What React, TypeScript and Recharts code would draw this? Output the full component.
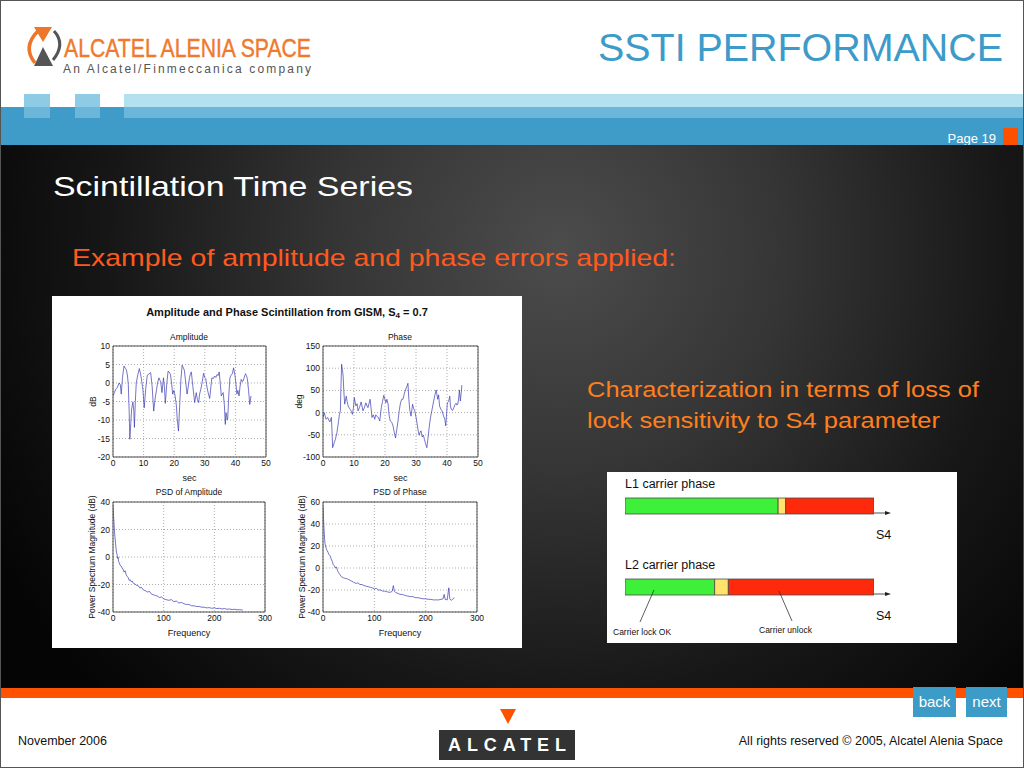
import React from 'react';
import {
  LineChart, Line, XAxis, YAxis, CartesianGrid, ReferenceArea,
  BarChart, Bar,
} from 'recharts';

const FONT = '"Liberation Sans", Arial, Helvetica, sans-serif';

// ---------- Scintillation data ----------
const amplitudeSamples: [number, number][] = [
  [0, -3.5], [0.5, -2.5], [0.9, -1.7], [1.4, -1.2], [2, 0], [2.4, -0.5], [2.7, -3], [3.1, 1.5], [3.6, 4.6], [4, 4],
  [4.3, 3.7], [4.7, 2.2], [5, -0.4], [5.3, -8], [5.5, -15.2], [5.8, -11], [6.1, -7], [6.5, -5.1], [6.8, -7.5], [7, -12],
  [7.3, -5], [7.6, 0], [8.1, 2.2], [8.6, 3.9], [9, 2.5], [9.3, 1], [9.8, -2], [10.2, -6.7], [10.7, -1.5], [11.2, 2.1],
  [11.7, 2.4], [12.3, 2.8], [12.8, -1], [13.3, -7.6], [13.8, -4], [14.2, -2], [14.6, 0.2], [15, 1.4], [15.3, 0.8], [15.6, 0.3],
  [16, -2.6], [16.5, 1.4], [16.8, -1], [17.1, -5.5], [17.6, 0], [18, 3.2], [18.4, 2.9], [18.8, 2.3], [19.2, -0.5], [19.5, -3],
  [19.9, -2], [20.3, -3.5], [20.7, -6], [21, -9.8], [21.4, -13], [21.8, -6], [22.2, 1], [22.6, 4.8], [23, 4.1], [23.3, 3.5],
  [23.8, 0], [24.2, -3], [24.6, -1], [25, 1.4], [25.3, 2.5], [25.6, 3], [26.1, -1], [26.7, -5.3], [27.2, -2.6], [27.6, -4.5],
  [28, -5.3], [28.3, -3], [28.7, -1.7], [29.2, 0.5], [29.6, 2.6], [30, 1.5], [30.3, 1.2], [30.6, -0.5], [30.9, -1.9], [31.2, -3],
  [31.6, -4.2], [32, -1], [32.3, 1.4], [32.8, 1.2], [33.2, 1.9], [33.6, 1.5], [34, 2.3], [34.4, 2], [34.7, 3], [35.1, -0.5],
  [35.4, -3.5], [36, -2.6], [36.4, -6], [36.7, -11.2], [36.9, -8], [37.1, -8.5], [37.3, -10], [37.5, -9.4], [37.8, -4], [38.2, 1.4],
  [38.6, 2.1], [39, 2.5], [39.4, 4.1], [39.9, 1.9], [40.2, -0.5], [40.5, -3], [40.8, -2], [41.2, -3.5], [41.5, -1], [41.9, 1],
  [42.2, 0.4], [42.5, 0.5], [42.9, 1.5], [43.3, 2.5], [43.6, 2], [43.9, 1.2], [44.3, -2], [44.7, -5.8], [45.1, -3.5],
];

const phaseSamples: [number, number][] = [
  [0, -11], [0.4, 0], [0.7, -8], [1, -15], [1.5, -11], [1.9, -17], [2.2, -21], [2.7, -11], [2.9, -40], [3.1, -79],
  [3.6, -68], [4, -60], [4.5, -45], [5, -20], [5.3, -4], [5.6, 4], [5.8, 60], [6, 109], [6.3, 95], [6.5, 82],
  [6.7, 50], [7, 19], [7.5, 37], [7.8, 25], [8.1, 15], [8.5, 10], [8.8, 7], [9.2, 2], [9.5, -4], [9.8, 10],
  [10.1, 34], [10.6, 15], [11, 20], [11.3, 4], [11.8, 12], [12.3, 24], [12.9, 4], [13.4, 12], [13.8, 22], [14.2, 15],
  [14.5, 11], [15.2, 30], [15.5, 10], [15.8, -11], [16.2, -5], [16.7, -15], [17, -5], [17.4, -8], [17.9, -12], [18.3, -19],
  [18.8, 11], [19.2, 25], [19.6, 39], [20.3, 22], [20.6, 30], [21, 19], [21.3, -5], [21.7, -19], [22.2, -22], [22.6, -30],
  [23, -45], [23.4, -57], [23.8, -38], [24.2, -19], [24.6, 5], [25, 22], [25.4, 30], [25.8, 30], [26.2, 42], [26.6, 51],
  [27, 58], [27.4, 66], [27.7, 30], [28, 5], [28.4, -8], [28.9, 19], [29.2, 10], [29.6, 4], [30, -10], [30.3, -23],
  [30.7, -40], [31, -51], [31.3, -45], [31.6, -41], [32, -55], [32.4, -51], [32.7, -60], [33, -68], [33.5, -79], [33.9, -55],
  [34.3, -30], [34.7, -10], [35.1, 4], [35.4, 15], [35.7, 26], [36.1, 40], [36.5, 51], [37, 30], [37.3, 40], [37.6, 15],
  [38, 8], [38.4, 4], [38.9, -8], [39.3, -15], [39.6, -30], [39.9, 0], [40.1, 22], [40.5, 25], [40.9, 37], [41.1, 15],
  [41.4, 7], [41.8, 5], [42.2, 11], [42.6, 18], [42.9, 21], [43.2, 17], [43.5, 19], [43.8, 35], [44, 51], [44.3, 26],
  [44.6, 45], [44.8, 62],
];

const psdAmplitudeSamples: [number, number][] = [
  [0, 38], [1, 30], [2, 25], [3, 18], [4, 14], [5, 10], [6, 6], [7, 3], [8, 2], [9, -1],
  [10, 0], [11, -3], [12, -4], [14, -6], [16, -6.5], [18, -8], [20, -9], [22, -11], [24, -10], [26, -13],
  [28, -14], [30, -15], [32, -17], [34, -16.5], [36, -18], [38, -17.5], [40, -19], [43, -19.5], [46, -20.5], [50, -21],
  [53, -22.5], [56, -22], [60, -24], [64, -24.5], [68, -25.5], [72, -25], [76, -27], [80, -27.5], [84, -28], [88, -28.5],
  [92, -29.5], [96, -29], [100, -30.5], [105, -31], [110, -31.5], [115, -31], [120, -32.5], [125, -32], [130, -33.5], [135, -33],
  [140, -34], [145, -34.5], [150, -34.5], [155, -35.5], [160, -35.5], [165, -36], [170, -36], [175, -36.5], [180, -36.5], [185, -37],
  [190, -36.8], [195, -37.3], [200, -37], [205, -37.5], [210, -37.3], [215, -37.8], [220, -37.5], [225, -38], [230, -37.8], [235, -38.2],
  [240, -38], [245, -38.4], [250, -38.3], [256, -38.6],
];

const psdPhaseSamples: [number, number][] = [
  [0, 56], [1, 45], [2, 35], [3, 27], [4, 22], [5, 20], [6, 18], [8, 16], [10, 14], [12, 12],
  [14, 11], [16, 8], [18, 6], [20, 3], [22, 2], [24, 0], [26, 1], [28, -2], [30, -4], [33, -6],
  [36, -8], [40, -9], [44, -9.5], [48, -10], [52, -11], [56, -12], [60, -13], [64, -14], [68, -13.5], [72, -15],
  [76, -15], [80, -16], [84, -16.5], [88, -17], [92, -17.5], [96, -18], [100, -19], [104, -18.5], [108, -20], [112, -20],
  [116, -21], [120, -21], [124, -21.5], [128, -22], [132, -22], [135, -21], [137, -16], [139, -21], [142, -22.5], [146, -23],
  [150, -24], [155, -24], [160, -25], [165, -25.5], [170, -26], [175, -26], [180, -27], [185, -27], [190, -27.5], [195, -28],
  [200, -28], [205, -28.5], [210, -28.5], [215, -29], [220, -29], [225, -29], [230, -28.5], [234, -28], [236, -24], [238, -28.5],
  [242, -29], [245, -18], [247, -28], [250, -29.5], [253, -28], [256, -27],
];

const secTicks = [0, 10, 20, 30, 40, 50];
const freqTicks = [0, 100, 200, 300];
const ampTicks = [-20, -15, -10, -5, 0, 5, 10];
const phaseTicks = [-100, -50, 0, 50, 100, 150];
const psdAmpTicks = [-40, -20, 0, 20, 40];
const psdPhaseTicks = [-40, -20, 0, 20, 40, 60];

// ---------- Loss of lock diagram data ----------
const lockCategories = ['L1 carrier phase', 'L2 carrier phase'];
const lockOk = [0.615, 0.36];
const lockMarginal = [0.03, 0.055];
const lockLost = [0.355, 0.585];

type PlotProps = {
  samples: [number, number][];
  px: number; py: number; pw: number; ph: number;
  xDomain: [number, number]; xTicks: number[];
  yDomain: [number, number]; yTicks: number[];
  xLabel: string; yLabel: string; yLabelDx: number;
};

function SmallPlot(p: PlotProps) {
  const data = p.samples.map(([x, y]) => ({ x, y }));
  const L = 50, B = 30, T = 6, R = 12;
  const tick = { fontSize: 8.5, fill: '#111', fontFamily: FONT };
  return (
    <div style={{ position: 'absolute', left: p.px - L, top: p.py - T }}>
      <LineChart width={p.pw + L + R} height={p.ph + T + B} data={data}
        margin={{ top: T, right: R, left: 0, bottom: 0 }}>
        <CartesianGrid stroke="#8a8a8a" strokeDasharray="1 2" strokeWidth={0.7} />
        <XAxis dataKey="x" type="number" domain={p.xDomain} ticks={p.xTicks} interval={0}
          allowDataOverflow tickLine={false} axisLine={false} tickSize={2} tickMargin={1}
          height={B} tick={tick}
          label={{ value: p.xLabel, position: 'insideBottom', offset: 6, fontSize: 9, fill: '#111', fontFamily: FONT }} />
        <YAxis type="number" domain={p.yDomain} ticks={p.yTicks} interval={0}
          allowDataOverflow tickLine={false} axisLine={false} tickSize={3} tickMargin={0}
          width={L} tick={tick}
          label={{ value: p.yLabel, angle: -90, position: 'insideLeft', offset: p.yLabelDx,
            fontSize: 8.5, fill: '#111', fontFamily: FONT, style: { textAnchor: 'middle' } }} />
        <ReferenceArea x1={p.xDomain[0]} x2={p.xDomain[1]} y1={p.yDomain[0]} y2={p.yDomain[1]}
          fill="none" fillOpacity={0} stroke="#222" strokeWidth={0.8} />
        <Line dataKey="y" type="linear" stroke="#3a3ab0" strokeWidth={0.7} dot={false}
          isAnimationActive={false} />
      </LineChart>
    </div>
  );
}

function LockDiagram() {
  const data = lockCategories.map((name, i) => ({
    name, ok: lockOk[i], marginal: lockMarginal[i], lost: lockLost[i],
  }));
  return (
    <div style={{ position: 'absolute', left: 625, top: 464.5 }}>
      <BarChart width={249} height={162} data={data} layout="vertical"
        margin={{ top: 0, right: 0, left: 0, bottom: 0 }} barSize={16}>
        <XAxis type="number" domain={[0, 1]} hide />
        <YAxis type="category" dataKey="name" hide />
        <Bar dataKey="ok" stackId="s" fill="#3ef03a" stroke="#4a4a4a" strokeWidth={0.8} isAnimationActive={false} />
        <Bar dataKey="marginal" stackId="s" fill="#ffe36a" stroke="#4a4a4a" strokeWidth={0.8} isAnimationActive={false} />
        <Bar dataKey="lost" stackId="s" fill="#ff2a0c" stroke="#4a4a4a" strokeWidth={0.8} isAnimationActive={false} />
      </BarChart>
    </div>
  );
}

export default function App() {
  const c = { dominantBaseline: 'central' as const, fontFamily: FONT };
  return (
    <div style={{ position: 'fixed', left: 0, top: 0, width: 1024, height: 768, overflow: 'hidden', background: '#fff', fontFamily: FONT }}>
      <svg width={1024} height={768} style={{ position: 'absolute', left: 0, top: 0 }}>
        <defs>
          <radialGradient id="bg" cx="560" cy="250" r="640" gradientUnits="userSpaceOnUse">
            <stop offset="0" stopColor="#4c4c4c" />
            <stop offset="0.35" stopColor="#353535" />
            <stop offset="0.7" stopColor="#171717" />
            <stop offset="1" stopColor="#050505" />
          </radialGradient>
        </defs>
        {/* header bands */}
        <rect x={124} y={94} width={900} height={13} fill="#b3e1ef" />
        <rect x={0} y={107} width={1024} height={38} fill="#3f9cc8" />
        <rect x={124} y={107} width={900} height={11} fill="#6cb6da" />
        <rect x={24} y={94} width={26} height={13} fill="#8ecce5" />
        <rect x={24} y={107} width={26} height={11} fill="#6cb6da" />
        <rect x={75} y={94} width={25} height={13} fill="#8ecce5" />
        <rect x={75} y={107} width={25} height={11} fill="#6cb6da" />
        {/* header logo */}
        <polygon points="34,27 52,27 43,42" fill="#ef7628" />
        <polygon points="43,47 34,66 53,66" fill="#555" />
        <path d="M38,31 Q22,47 35,63" fill="none" stroke="#ef7628" strokeWidth={3.5} />
        <path d="M54,31 Q66,44 53,60" fill="none" stroke="#555" strokeWidth={3} />
        <text x={64} y={48} {...c} fontSize={25} fill="#ef7a2c" stroke="#ef7a2c" strokeWidth={0.4} textLength={247} lengthAdjust="spacingAndGlyphs">ALCATEL ALENIA SPACE</text>
        <text x={63} y={69} {...c} fontSize={12} fill="#555" textLength={248} lengthAdjust="spacing">An Alcatel/Finmeccanica company</text>
        <text x={1003} y={47} {...c} textAnchor="end" fontSize={39} fill="#3d9bc9" textLength={405} lengthAdjust="spacingAndGlyphs">SSTI PERFORMANCE</text>
        <text x={996} y={138} {...c} textAnchor="end" fontSize={13} fill="#fff">Page 19</text>
        <rect x={1003} y={128} width={15} height={17} fill="#ff5000" />
        {/* dark body */}
        <rect x={0} y={145} width={1024} height={543} fill="url(#bg)" />
        <text x={53} y={186} {...c} fontSize={28} fill="#fff" textLength={360} lengthAdjust="spacingAndGlyphs">Scintillation Time Series</text>
        <text x={72} y={257} {...c} fontSize={24} fill="#ff5a1e" textLength={604} lengthAdjust="spacingAndGlyphs">Example of amplitude and phase errors applied:</text>
        <text x={587} y={389} {...c} fontSize={22} fill="#ff7f1e" textLength={392} lengthAdjust="spacingAndGlyphs">Characterization in terms of loss of</text>
        <text x={587} y={420} {...c} fontSize={22} fill="#ff7f1e" textLength={353} lengthAdjust="spacingAndGlyphs">lock sensitivity to S4 parameter</text>
        {/* white panels */}
        <rect x={52} y={296} width={470} height={352} fill="#fff" />
        <rect x={607} y={472} width={350} height={171} fill="#fff" />
        <text x={287} y={312} {...c} textAnchor="middle" fontSize={11} fontWeight="bold" fill="#111">
          Amplitude and Phase Scintillation from GISM, S<tspan fontSize={8} dy={3}>4</tspan><tspan dy={-3}> = 0.7</tspan>
        </text>
        <text x={189} y={337} {...c} textAnchor="middle" fontSize={8.5} fill="#111">Amplitude</text>
        <text x={400} y={337} {...c} textAnchor="middle" fontSize={8.5} fill="#111">Phase</text>
        <text x={189} y={492} {...c} textAnchor="middle" fontSize={8.5} fill="#111">PSD of Amplitude</text>
        <text x={400} y={492} {...c} textAnchor="middle" fontSize={8.5} fill="#111">PSD of Phase</text>
        {/* footer */}
        <rect x={0} y={688} width={1024} height={10} fill="#ff5200" />
        <rect x={913} y={687} width={43} height={30} fill="#3d9bc8" />
        <rect x={966} y={687} width={41} height={30} fill="#3d9bc8" />
        <text x={934.5} y={701} {...c} textAnchor="middle" fontSize={15} fill="#fff">back</text>
        <text x={986.5} y={701} {...c} textAnchor="middle" fontSize={15} fill="#fff">next</text>
        <polygon points="500,709 516,709 508,724" fill="#ff5200" />
        <rect x={439} y={730} width={136} height={30} fill="#333" />
        <text x={507} y={745} {...c} textAnchor="middle" fontSize={18} fontWeight="bold" fill="#fff" textLength={118} lengthAdjust="spacing">ALCATEL</text>
        <text x={18} y={741} {...c} fontSize={12.5} fill="#111">November 2006</text>
        <text x={1003} y={741} {...c} textAnchor="end" fontSize={12.5} fill="#111">All rights reserved © 2005, Alcatel Alenia Space</text>
        <rect x={0.5} y={0.5} width={1023} height={767} fill="none" stroke="#555" />
      </svg>

      <SmallPlot samples={amplitudeSamples} px={113} py={346} pw={153} ph={111}
        xDomain={[0, 50]} xTicks={secTicks} yDomain={[-20, 10]} yTicks={ampTicks}
        xLabel="sec" yLabel="dB" yLabelDx={30} />
      <SmallPlot samples={phaseSamples} px={323} py={346} pw={155} ph={111}
        xDomain={[0, 50]} xTicks={secTicks} yDomain={[-100, 150]} yTicks={phaseTicks}
        xLabel="sec" yLabel="deg" yLabelDx={26} />
      <SmallPlot samples={psdAmplitudeSamples} px={113} py={502} pw={152} ph={110}
        xDomain={[0, 300]} xTicks={freqTicks} yDomain={[-40, 40]} yTicks={psdAmpTicks}
        xLabel="Frequency" yLabel="Power Spectrum Magnitude (dB)" yLabelDx={29} />
      <SmallPlot samples={psdPhaseSamples} px={323} py={502} pw={154} ph={110}
        xDomain={[0, 300]} xTicks={freqTicks} yDomain={[-40, 60]} yTicks={psdPhaseTicks}
        xLabel="Frequency" yLabel="Power Spectrum Magnitude (dB)" yLabelDx={29} />

      <LockDiagram />

      <svg width={1024} height={768} style={{ position: 'absolute', left: 0, top: 0, pointerEvents: 'none' }}>
        <text x={625} y={484} dominantBaseline="central" fontFamily={FONT} fontSize={12.5} fill="#111">L1 carrier phase</text>
        <text x={625} y={565} dominantBaseline="central" fontFamily={FONT} fontSize={12.5} fill="#111">L2 carrier phase</text>
        <line x1={874} y1={513} x2={888} y2={513} stroke="#222" strokeWidth={0.8} />
        <polygon points="891,513 885,511 885,515" fill="#222" />
        <line x1={874} y1={594} x2={888} y2={594} stroke="#222" strokeWidth={0.8} />
        <polygon points="891,594 885,592 885,596" fill="#222" />
        <text x={876} y={535} dominantBaseline="central" fontFamily={FONT} fontSize={12.5} fill="#111">S4</text>
        <text x={876} y={616} dominantBaseline="central" fontFamily={FONT} fontSize={12.5} fill="#111">S4</text>
        <line x1={640} y1={622} x2={654} y2={590} stroke="#333" strokeWidth={0.8} />
        <line x1={792} y1={621} x2={779} y2={591} stroke="#333" strokeWidth={0.8} />
        <text x={613} y={632} dominantBaseline="central" fontFamily={FONT} fontSize={8.5} fill="#111">Carrier lock OK</text>
        <text x={759} y={630} dominantBaseline="central" fontFamily={FONT} fontSize={8.5} fill="#111">Carrier unlock</text>
      </svg>
    </div>
  );
}
